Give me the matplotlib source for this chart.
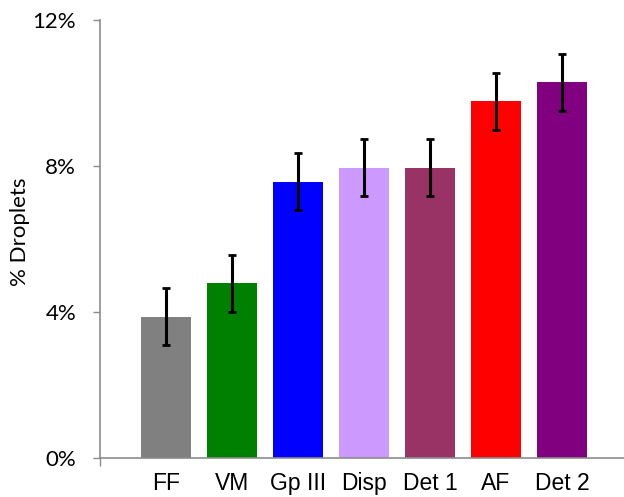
import matplotlib
matplotlib.use("Agg")
import matplotlib.pyplot as plt
from matplotlib.ticker import FuncFormatter

plt.rcParams['font.family'] = ['Liberation Sans', 'DejaVu Sans']

groups = ["FF", "VM", "Gp III", "Disp", "Det 1", "AF", "Det 2"]
droplets = [3.86, 4.78, 7.56, 7.95, 7.95, 9.76, 10.28]
errors = [0.78, 0.78, 0.78, 0.78, 0.78, 0.78, 0.78]
colors = ["#808080", "#008000", "#0000FF", "#CC99FF", "#993366", "#FF0000", "#800080"]

fig = plt.figure(figsize=(6.24, 4.97), dpi=100)
ax = fig.add_axes([0.160, 0.0785, 0.840, 0.882])

x = list(range(len(groups)))
ax.bar(x, droplets, width=0.76, color=colors)
ax.errorbar(x, droplets, yerr=errors, fmt='none', ecolor='black',
            elinewidth=2.2, capsize=3, capthick=2)

ax.set_xlim(-1, 6.94)
ax.set_ylim(0, 12)
ax.set_yticks([0, 4, 8, 12])
ax.yaxis.set_major_formatter(FuncFormatter(lambda v, p: f"{v:.0f}%"))
ax.set_xticks(x)
ax.set_xticklabels(groups, fontsize=16.5)
ax.set_xticks([-1], minor=True)

for s in ["top", "right"]:
    ax.spines[s].set_visible(False)
for s in ["left", "bottom"]:
    ax.spines[s].set_color("#8c8c8c")
    ax.spines[s].set_linewidth(1.2)

ax.tick_params(axis='y', length=5, width=1, color="#8c8c8c", pad=12)
for lbl in ax.get_yticklabels():
    lbl.set_family(['Lato', 'DejaVu Sans'])
    lbl.set_fontsize(16)
ax.tick_params(axis='x', which='major', length=0, pad=10)
ax.tick_params(axis='x', which='minor', length=6, width=1, color="#8c8c8c")
ax.set_ylabel("% Droplets", fontsize=16, family=['Lato', 'DejaVu Sans'])
ax.yaxis.set_label_coords(-0.133, 0.517)

fig.savefig("out.png", dpi=100)
